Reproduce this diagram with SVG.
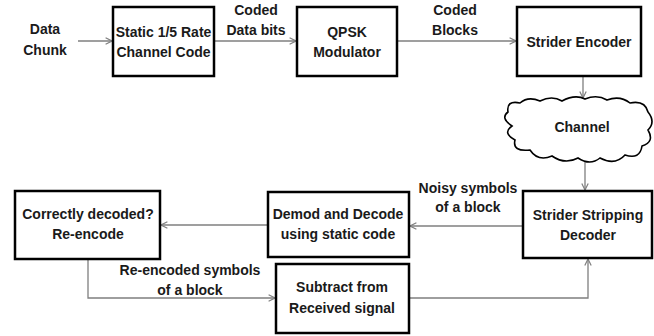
<svg xmlns="http://www.w3.org/2000/svg" width="654" height="336" viewBox="0 0 654 336">
<style>
.box{fill:#fff;stroke:#000;stroke-width:2.5}
.t{font-family:"Liberation Sans",Arial,sans-serif;font-weight:bold;font-size:14px;fill:#1a1a1a;text-anchor:middle}
.c{fill:none;stroke:#7f7f7f;stroke-width:1.3}
</style>
<defs>
<marker id="ah" viewBox="0 0 10 10" refX="9" refY="5" markerWidth="8" markerHeight="8" markerUnits="userSpaceOnUse" orient="auto">
<path d="M1,1 L9,5 L1,9" fill="none" stroke="#7f7f7f" stroke-width="1.5"/>
</marker>
</defs>
<rect width="654" height="336" fill="#fff"/>
<g id="connectors">
<line class="c" x1="78" y1="41" x2="112" y2="41" marker-end="url(#ah)"/>
<line class="c" x1="214" y1="41" x2="296" y2="41" marker-end="url(#ah)"/>
<line class="c" x1="397" y1="41" x2="516" y2="41" marker-end="url(#ah)"/>
<line class="c" x1="583" y1="77" x2="583" y2="98" marker-end="url(#ah)"/>
<line class="c" x1="585" y1="162" x2="585" y2="190" marker-end="url(#ah)"/>
<line class="c" x1="523" y1="226" x2="410" y2="226" marker-end="url(#ah)"/>
<line class="c" x1="268" y1="225" x2="161" y2="225" marker-end="url(#ah)"/>
<polyline class="c" points="88,260 88,298 275,298" marker-end="url(#ah)"/>
<polyline class="c" points="409,298 588,298 588,259" marker-end="url(#ah)"/>
</g>
<g id="label-data-chunk"><text class="t" x="45" y="34">Data</text><text class="t" x="45" y="55">Chunk</text></g>
<g id="label-coded-data-bits"><text class="t" x="256" y="15">Coded</text><text class="t" x="256" y="35">Data bits</text></g>
<g id="label-coded-blocks"><text class="t" x="455" y="15">Coded</text><text class="t" x="455" y="35">Blocks</text></g>
<g id="label-noisy"><text class="t" x="468" y="193">Noisy symbols</text><text class="t" x="468" y="212">of a block</text></g>
<g id="label-reencoded"><text class="t" x="190" y="275">Re-encoded symbols</text><text class="t" x="190" y="295">of a block</text></g>
<g id="static-code"><rect class="box" x="113" y="7" width="101" height="69"/><text class="t" x="163.5" y="37">Static 1/5 Rate</text><text class="t" x="163.5" y="57">Channel Code</text></g>
<g id="qpsk"><rect class="box" x="297" y="7" width="100" height="69"/><text class="t" x="347" y="37">QPSK</text><text class="t" x="347" y="57">Modulator</text></g>
<g id="strider-encoder"><rect class="box" x="517" y="7" width="124" height="69"/><text class="t" x="579" y="47">Strider Encoder</text></g>
<g id="channel"><path d="M508 112 Q506 100 520 103 Q528 96 540 101 Q552 95 562 101 Q575 94 585 99 Q597 94 607 100 Q620 95 630 103 Q645 100 648 112 Q656 122 648 130 Q655 142 642 146 Q640 160 625 155 Q615 166 600 158 Q590 166 578 158 Q565 165 552 156 Q538 162 530 150 Q512 152 515 140 Q502 133 512 126 Q500 118 508 112 Z" fill="#fff" stroke="#000" stroke-width="1.6"/><text class="t" x="582" y="132">Channel</text></g>
<g id="stripping-decoder"><rect class="box" x="523" y="191" width="129" height="67"/><text class="t" x="588" y="220">Strider Stripping</text><text class="t" x="588" y="240">Decoder</text></g>
<g id="demod-decode"><rect class="box" x="268" y="192" width="141" height="65"/><text class="t" x="338" y="219">Demod and Decode</text><text class="t" x="338" y="239">using static code</text></g>
<g id="correctly-decoded"><rect class="box" x="15" y="191" width="145" height="68"/><text class="t" x="88" y="219">Correctly decoded?</text><text class="t" x="88" y="239">Re-encode</text></g>
<g id="subtract"><rect class="box" x="276" y="264" width="133" height="69"/><text class="t" x="342" y="292">Subtract from</text><text class="t" x="342" y="313">Received signal</text></g>
</svg>
